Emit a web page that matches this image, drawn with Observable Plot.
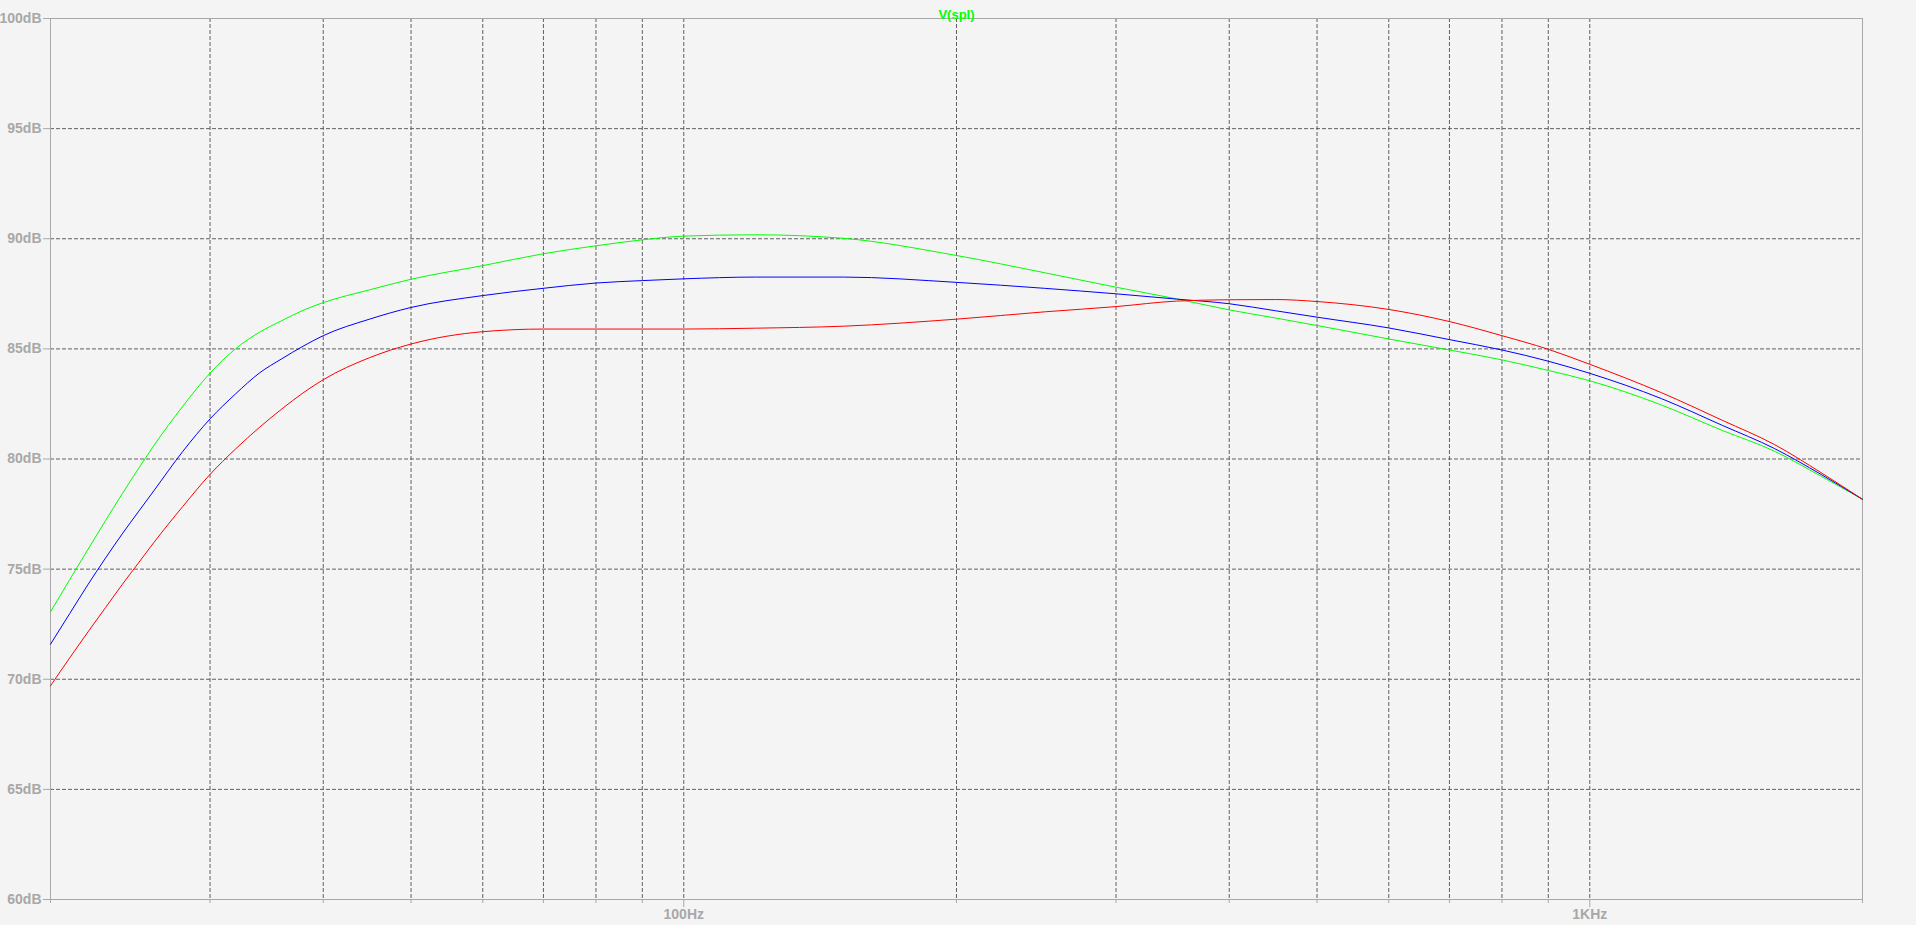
<!DOCTYPE html>
<html><head><meta charset="utf-8">
<script src="https://cdn.jsdelivr.net/npm/d3@7"></script>
<script src="https://cdn.jsdelivr.net/npm/@observablehq/plot@0.6"></script>
<style>html,body{margin:0;padding:0;background:#f4f4f4;overflow:hidden}</style>
</head><body><div id="chart"></div>
<script>
const freqs = [20,21,22,23,24,25,26,28,30,32,34,36,38,40,45,50,60,70,80,90,100,120,150,200,250,300,350,400,450,500,600,700,800,900,1000,1200,1400,1600,1800,2000];
const green = [73.06,74.52,75.9,77.2,78.42,79.55,80.6,82.4,83.9,85.0,85.75,86.28,86.75,87.1,87.68,88.16,88.78,89.32,89.68,89.95,90.12,90.18,90.02,89.24,88.46,87.8,87.27,86.77,86.4,86.06,85.45,84.95,84.5,84.02,83.55,82.45,81.3,80.35,79.22,78.17];
const blue = [71.59,72.98,74.3,75.5,76.6,77.6,78.55,80.35,81.82,82.95,83.9,84.55,85.12,85.6,86.35,86.88,87.42,87.75,87.99,88.1,88.18,88.26,88.26,88.02,87.75,87.5,87.26,87.05,86.73,86.44,85.95,85.42,84.95,84.44,83.89,82.74,81.53,80.47,79.3,78.17];
const red = [69.7,70.97,72.15,73.25,74.3,75.27,76.2,77.85,79.3,80.45,81.43,82.27,83.0,83.6,84.6,85.22,85.78,85.9,85.9,85.9,85.9,85.94,86.03,86.35,86.68,86.92,87.17,87.23,87.24,87.15,86.79,86.24,85.6,84.98,84.3,83.01,81.76,80.65,79.38,78.17];

const yTicks = [60,65,70,75,80,85,90,95,100];
const yGrid = [65,70,75,80,85,90,95];
const xGrid = [30,40,50,60,70,80,90,100,200,300,400,500,600,700,800,900,1000];
const xMajor = [100,1000];
const xMajorLabels = ["100Hz","1KHz"];
const xMinor = [20,30,40,50,60,70,80,90,200,300,400,500,600,700,800,900,2000];
const title = "V(spl)";

const gridStyle = {stroke:"#606060", strokeOpacity:1, strokeDasharray:"4,2", strokeWidth:1};

const chart = Plot.plot({
  width: 1916,
  height: 925,
  marginLeft: 50,
  marginRight: 54,
  marginTop: 18,
  marginBottom: 26,
  x: {type: "log", domain: [20, 2000]},
  y: {domain: [60, 100]},
  style: {background: "#f4f4f4", fontFamily: "'Liberation Sans', Arial, sans-serif", fontSize: "14px", fontWeight: "bold", color: "#a8a8a8"},
  marks: [
    Plot.gridX(xGrid, gridStyle),
    Plot.gridY(yGrid, gridStyle),
    Plot.frame({stroke: "#a8a8a8"}),
    Plot.line(freqs, {x: freqs, y: green, stroke: "#00ff00", strokeWidth: 1, curve: "monotone-x"}),
    Plot.line(freqs, {x: freqs, y: blue, stroke: "#0000ff", strokeWidth: 1, curve: "monotone-x"}),
    Plot.line(freqs, {x: freqs, y: red, stroke: "#ff0000", strokeWidth: 1, curve: "monotone-x"}),
    Plot.axisY(yTicks, {tickSize: 7, tickPadding: 2, tickFormat: d => d + "dB", label: null, stroke: "#a8a8a8", fill: "#a8a8a8"}),
    Plot.axisX(xMajor, {tickSize: 8, tickPadding: 2, tickFormat: d => xMajorLabels[xMajor.indexOf(d)], label: null, stroke: "#a8a8a8", fill: "#a8a8a8"}),
    Plot.axisX(xMinor, {tickSize: 4, tickFormat: () => "", label: null, stroke: "#a8a8a8"}),
    Plot.text([title], {frameAnchor: "top", dy: -9, fill: "#00ff00", fontSize: 13, fontWeight: "bold"})
  ]
});
document.getElementById("chart").appendChild(chart);
</script>
</body></html>
